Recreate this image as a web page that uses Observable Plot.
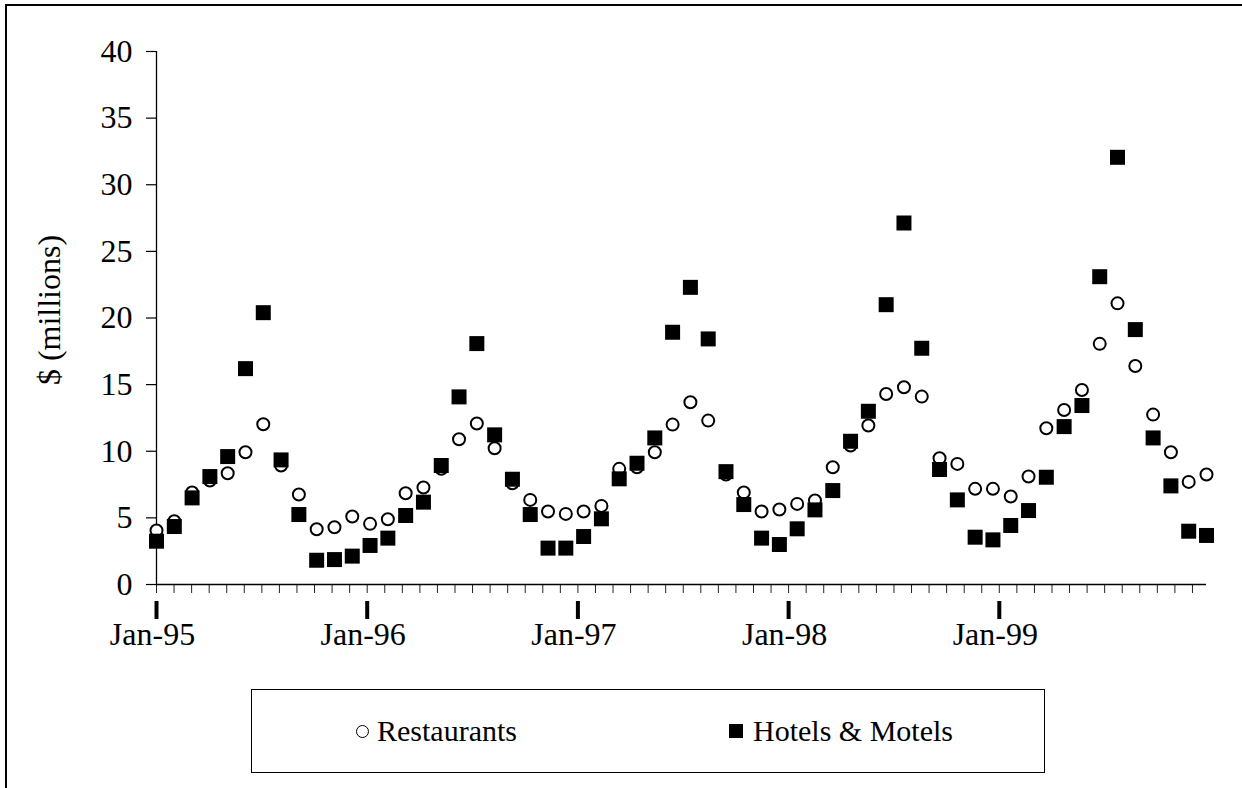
<!DOCTYPE html>
<html>
<head>
<meta charset="utf-8">
<script src="https://cdn.jsdelivr.net/npm/d3@7"></script>
<script src="https://cdn.jsdelivr.net/npm/@observablehq/plot@0.6"></script>
<style>
  body { margin: 0; background: #fff; }
  #wrap { position: relative; width: 1242px; height: 788px; overflow: hidden; background: #fff;
          font-family: "Liberation Serif", "Times New Roman", serif; }
  #frame { position: absolute; left: 5px; top: 4px; width: 1260px; height: 820px;
           border-left: 2px solid #000; border-top: 2px solid #000; }
  #chart { position: absolute; left: 0; top: 0; }
  #legend { position: absolute; left: 251px; top: 689px; width: 794px; height: 84px;
            border: 1.5px solid #000; box-sizing: border-box; }
  .item { position: absolute; top: 0; height: 100%; display: flex; align-items: center;
          font-size: 30px; color: #000; white-space: nowrap; }
  .circ { display: inline-block; width: 11px; height: 11px; border: 1.6px solid #000;
          border-radius: 50%; margin-right: 8px; }
  .sq { display: inline-block; width: 14px; height: 14px; background: #000; margin-right: 10px; }
</style>
</head>
<body>
<div id="wrap">
  <div id="frame"></div>
  <div id="chart"></div>
  <div id="legend">
    <div class="item" style="left:104px"><span class="circ"></span>Restaurants</div>
    <div class="item" style="left:477px"><span class="sq"></span>Hotels &amp; Motels</div>
  </div>
</div>
<script>
// Month index 0 = Jan-95 ... 59 = Dec-99
const months = d3.range(60);

const restaurants = [
  4.05, 4.75, 6.9, 7.8, 8.35, 9.93, 12.03, 8.93, 6.75, 4.15, 4.3, 5.1,
  4.55, 4.9, 6.85, 7.28, 8.68, 10.9, 12.08, 10.23, 7.6, 6.35, 5.48, 5.3,
  5.48, 5.9, 8.68, 8.8, 9.93, 12.0, 13.68, 12.3, 8.25, 6.9, 5.48, 5.63,
  6.05, 6.3, 8.8, 10.43, 11.93, 14.3, 14.8, 14.1, 9.48, 9.05, 7.18, 7.18,
  6.6, 8.1, 11.73, 13.1, 14.6, 18.06, 21.1, 16.4, 12.75, 9.93, 7.7, 8.25
];

const hotels = [
  3.25, 4.35, 6.5, 8.1, 9.6, 16.2, 20.4, 9.35, 5.25, 1.82, 1.87, 2.13,
  2.93, 3.48, 5.18, 6.18, 8.93, 14.08, 18.08, 11.23, 7.9, 5.25, 2.73, 2.73,
  3.6, 4.93, 7.93, 9.1, 11.0, 18.93, 22.3, 18.43, 8.47, 6.0, 3.48, 3.0,
  4.18, 5.6, 7.05, 10.75, 13.0, 21.0, 27.13, 17.73, 8.63, 6.35, 3.55, 3.35,
  4.43, 5.55, 8.05, 11.85, 13.43, 23.1, 32.06, 19.13, 11.0, 7.4, 4.0, 3.68
];

const yTicks = [0, 5, 10, 15, 20, 25, 30, 35, 40];
const yearLabels = ["Jan-95", "Jan-96", "Jan-97", "Jan-98", "Jan-99"];
const yearMonth = [0, 12, 24, 36, 48];
const yTitle = ["$ (millions)"];

// category ticks are spaced slightly tighter than the plotted months
const tickStep = 59 / 59.8;
const minorTicks = d3.range(60).map(k => k * tickStep);
const majorTicks = yearMonth.map(k => k * tickStep);

const restData = months.map(i => ({i, v: restaurants[i]}));
const hotelData = months.map(i => ({i, v: hotels[i]}));

const font = '"Liberation Serif", "Times New Roman", serif';

const chart = Plot.plot({
  width: 1242,
  height: 690,
  marginLeft: 156,
  marginRight: 36,
  marginTop: 51,
  marginBottom: 106,
  style: { fontFamily: font, fontSize: "32px", background: "transparent", color: "#000", overflow: "visible" },
  x: { type: "linear", domain: [0, 59] },
  y: { domain: [0, 40] },
  marks: [
    Plot.axisY(yTicks, { tickSize: 10, tickPadding: 14, fontSize: 32, label: null, strokeWidth: 1.2 }),
    Plot.axisX(minorTicks, { tickSize: 9, tickFormat: () => "", label: null, strokeWidth: 1, stroke: "#222" }),
    Plot.axisX(majorTicks, { tickSize: 18, dy: 17, tickFormat: () => "", label: null, strokeWidth: 4 }),
    Plot.text(yearLabels, { x: (d, i) => majorTicks[i], frameAnchor: "bottom", dy: 60, dx: -4, fontSize: 32, fill: "#000" }),
    Plot.text(yTitle, { frameAnchor: "left", textAnchor: "middle", dx: -107, dy: -8, rotate: -90, fontSize: 32, fill: "#000" }),
    Plot.ruleX([0], { y1: 0, y2: 40, stroke: "#000", strokeWidth: 1.3 }),
    Plot.ruleY([0], { x1: 0, x2: 59, stroke: "#000", strokeWidth: 1.3 }),
    Plot.dot(restData, { x: "i", y: "v", r: 6, stroke: "#000", strokeWidth: 2, fill: "#fff" }),
    Plot.dot(hotelData, { x: "i", y: "v", symbol: "square", r: 8.46, fill: "#000", stroke: "none" })
  ]
});
document.getElementById("chart").appendChild(chart);
</script>
</body>
</html>
